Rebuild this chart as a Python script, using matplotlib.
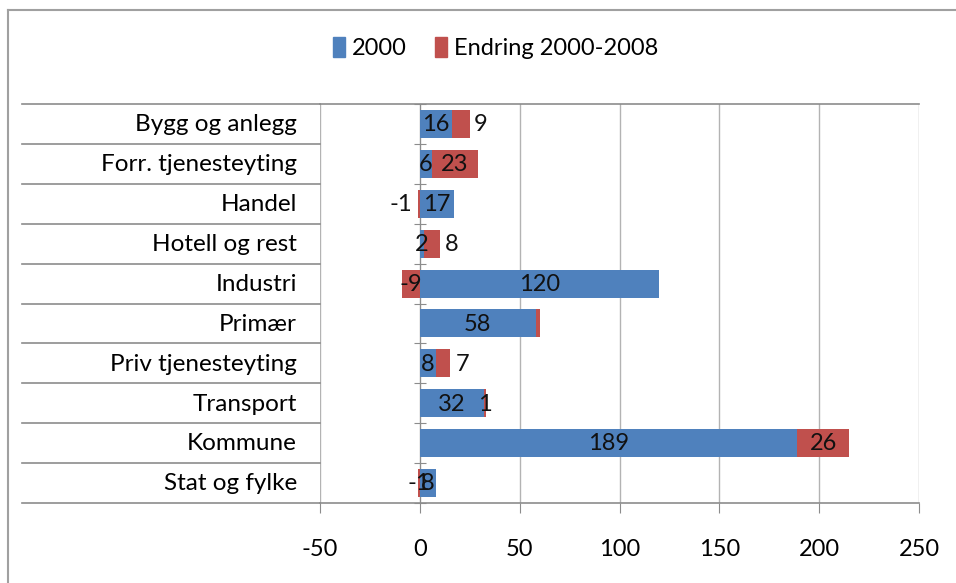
import matplotlib
matplotlib.use("Agg")
import matplotlib.pyplot as plt
import numpy as np
from matplotlib.patches import Patch
from matplotlib.transforms import blended_transform_factory

plt.rcParams["font.family"] = ["Lato", "DejaVu Sans"]

CATEGORIES = [
    "Bygg og anlegg",
    "Forr. tjenesteyting",
    "Handel",
    "Hotell og rest",
    "Industri",
    "Primær",
    "Priv tjenesteyting",
    "Transport",
    "Kommune",
    "Stat og fylke",
]
VALUES_2000 = np.array([16, 6, 17, 2, 120, 58, 8, 32, 189, 8])
CHANGE = np.array([9, 23, -1, 8, -9, 2, 7, 1, 26, -1])
# labels moved by hand in the original (data units), None = label hidden
CHANGE_LABEL_SHIFT = [10, 0, -9, 10, 0, None, 10, 0, 0, 0]
SERIES = ["2000", "Endring 2000-2008"]

BLUE = "#4F81BD"
RED = "#C0504D"
GRID = "#B3B3B3"
FRAME = "#8C8C8C"
FS = 17
CAT_FS = 17.5

W, H = 956, 583
fig = plt.figure(figsize=(W / 100, H / 100), dpi=100)
ax = fig.add_axes([320 / W, 1 - 503 / H, (919 - 320) / W, (503 - 104) / H])

y = np.arange(len(CATEGORIES))
red_left = np.where(CHANGE >= 0, VALUES_2000, 0)
ax.barh(y, VALUES_2000, height=0.7, color=BLUE, zorder=3)
ax.barh(y, CHANGE, left=red_left, height=0.7, color=RED, zorder=3)

for i in y:
    ax.text(VALUES_2000[i] / 2, i + 0.02, str(VALUES_2000[i]), ha="center", va="center",
            fontsize=FS, color="#111111", zorder=5)
    shift = CHANGE_LABEL_SHIFT[i]
    if shift is not None:
        ax.text(red_left[i] + CHANGE[i] / 2 + shift, i + 0.02, str(CHANGE[i]), ha="center",
                va="center", fontsize=FS, color="#111111", zorder=5)

ax.set_xlim(-50, 250)
ax.set_ylim(len(CATEGORIES) - 0.5, -0.5)
ax.set_xticks(np.arange(-50, 251, 50))
ax.set_xticklabels([str(v) for v in range(-50, 251, 50)], fontsize=FS)
ax.tick_params(axis="x", direction="out", length=7, color=FRAME, pad=19)
ax.grid(axis="x", color=GRID, lw=1.0, zorder=0)

# zero axis with category separator ticks
ax.spines["left"].set_position(("data", 0))
ax.spines["left"].set_color(FRAME)
ax.set_yticks(np.arange(-0.5, len(CATEGORIES), 1))
ax.set_yticklabels([])
ax.tick_params(axis="y", direction="inout", length=8, color=FRAME)
ax.spines["right"].set_visible(False)
for s in ("top", "bottom"):
    ax.spines[s].set_color(FRAME)
    ax.spines[s].set_linewidth(1.2)
ax.set_axisbelow(True)

# category table on the left
tr = blended_transform_factory(fig.transFigure, ax.transData)
for b in np.arange(-0.5, len(CATEGORIES), 1):
    ax.plot([22 / W, 320 / W], [b, b], transform=tr, color=FRAME, lw=1.2, clip_on=False)
for i, name in enumerate(CATEGORIES):
    ax.text(297 / W, i + 0.02, name, transform=tr, ha="right", va="center", fontsize=CAT_FS,
            color="black")

# outer chart border
fig.add_artist(plt.Line2D([8 / W, 1], [1 - 10 / H, 1 - 10 / H], color="#A0A0A0", lw=1.5))
fig.add_artist(plt.Line2D([8 / W, 8 / W], [0, 1 - 10 / H], color="#A0A0A0", lw=1.5))

handles = [Patch(color=BLUE, label=SERIES[0]), Patch(color=RED, label=SERIES[1])]
fig.legend(handles=handles, loc="center", bbox_to_anchor=(496 / W, 1 - 48 / H), ncol=2,
           frameon=False, fontsize=FS, handlelength=0.5, handleheight=0.9,
           handletextpad=0.3, columnspacing=1.2)

fig.savefig("out.png", dpi=100, facecolor="white")
